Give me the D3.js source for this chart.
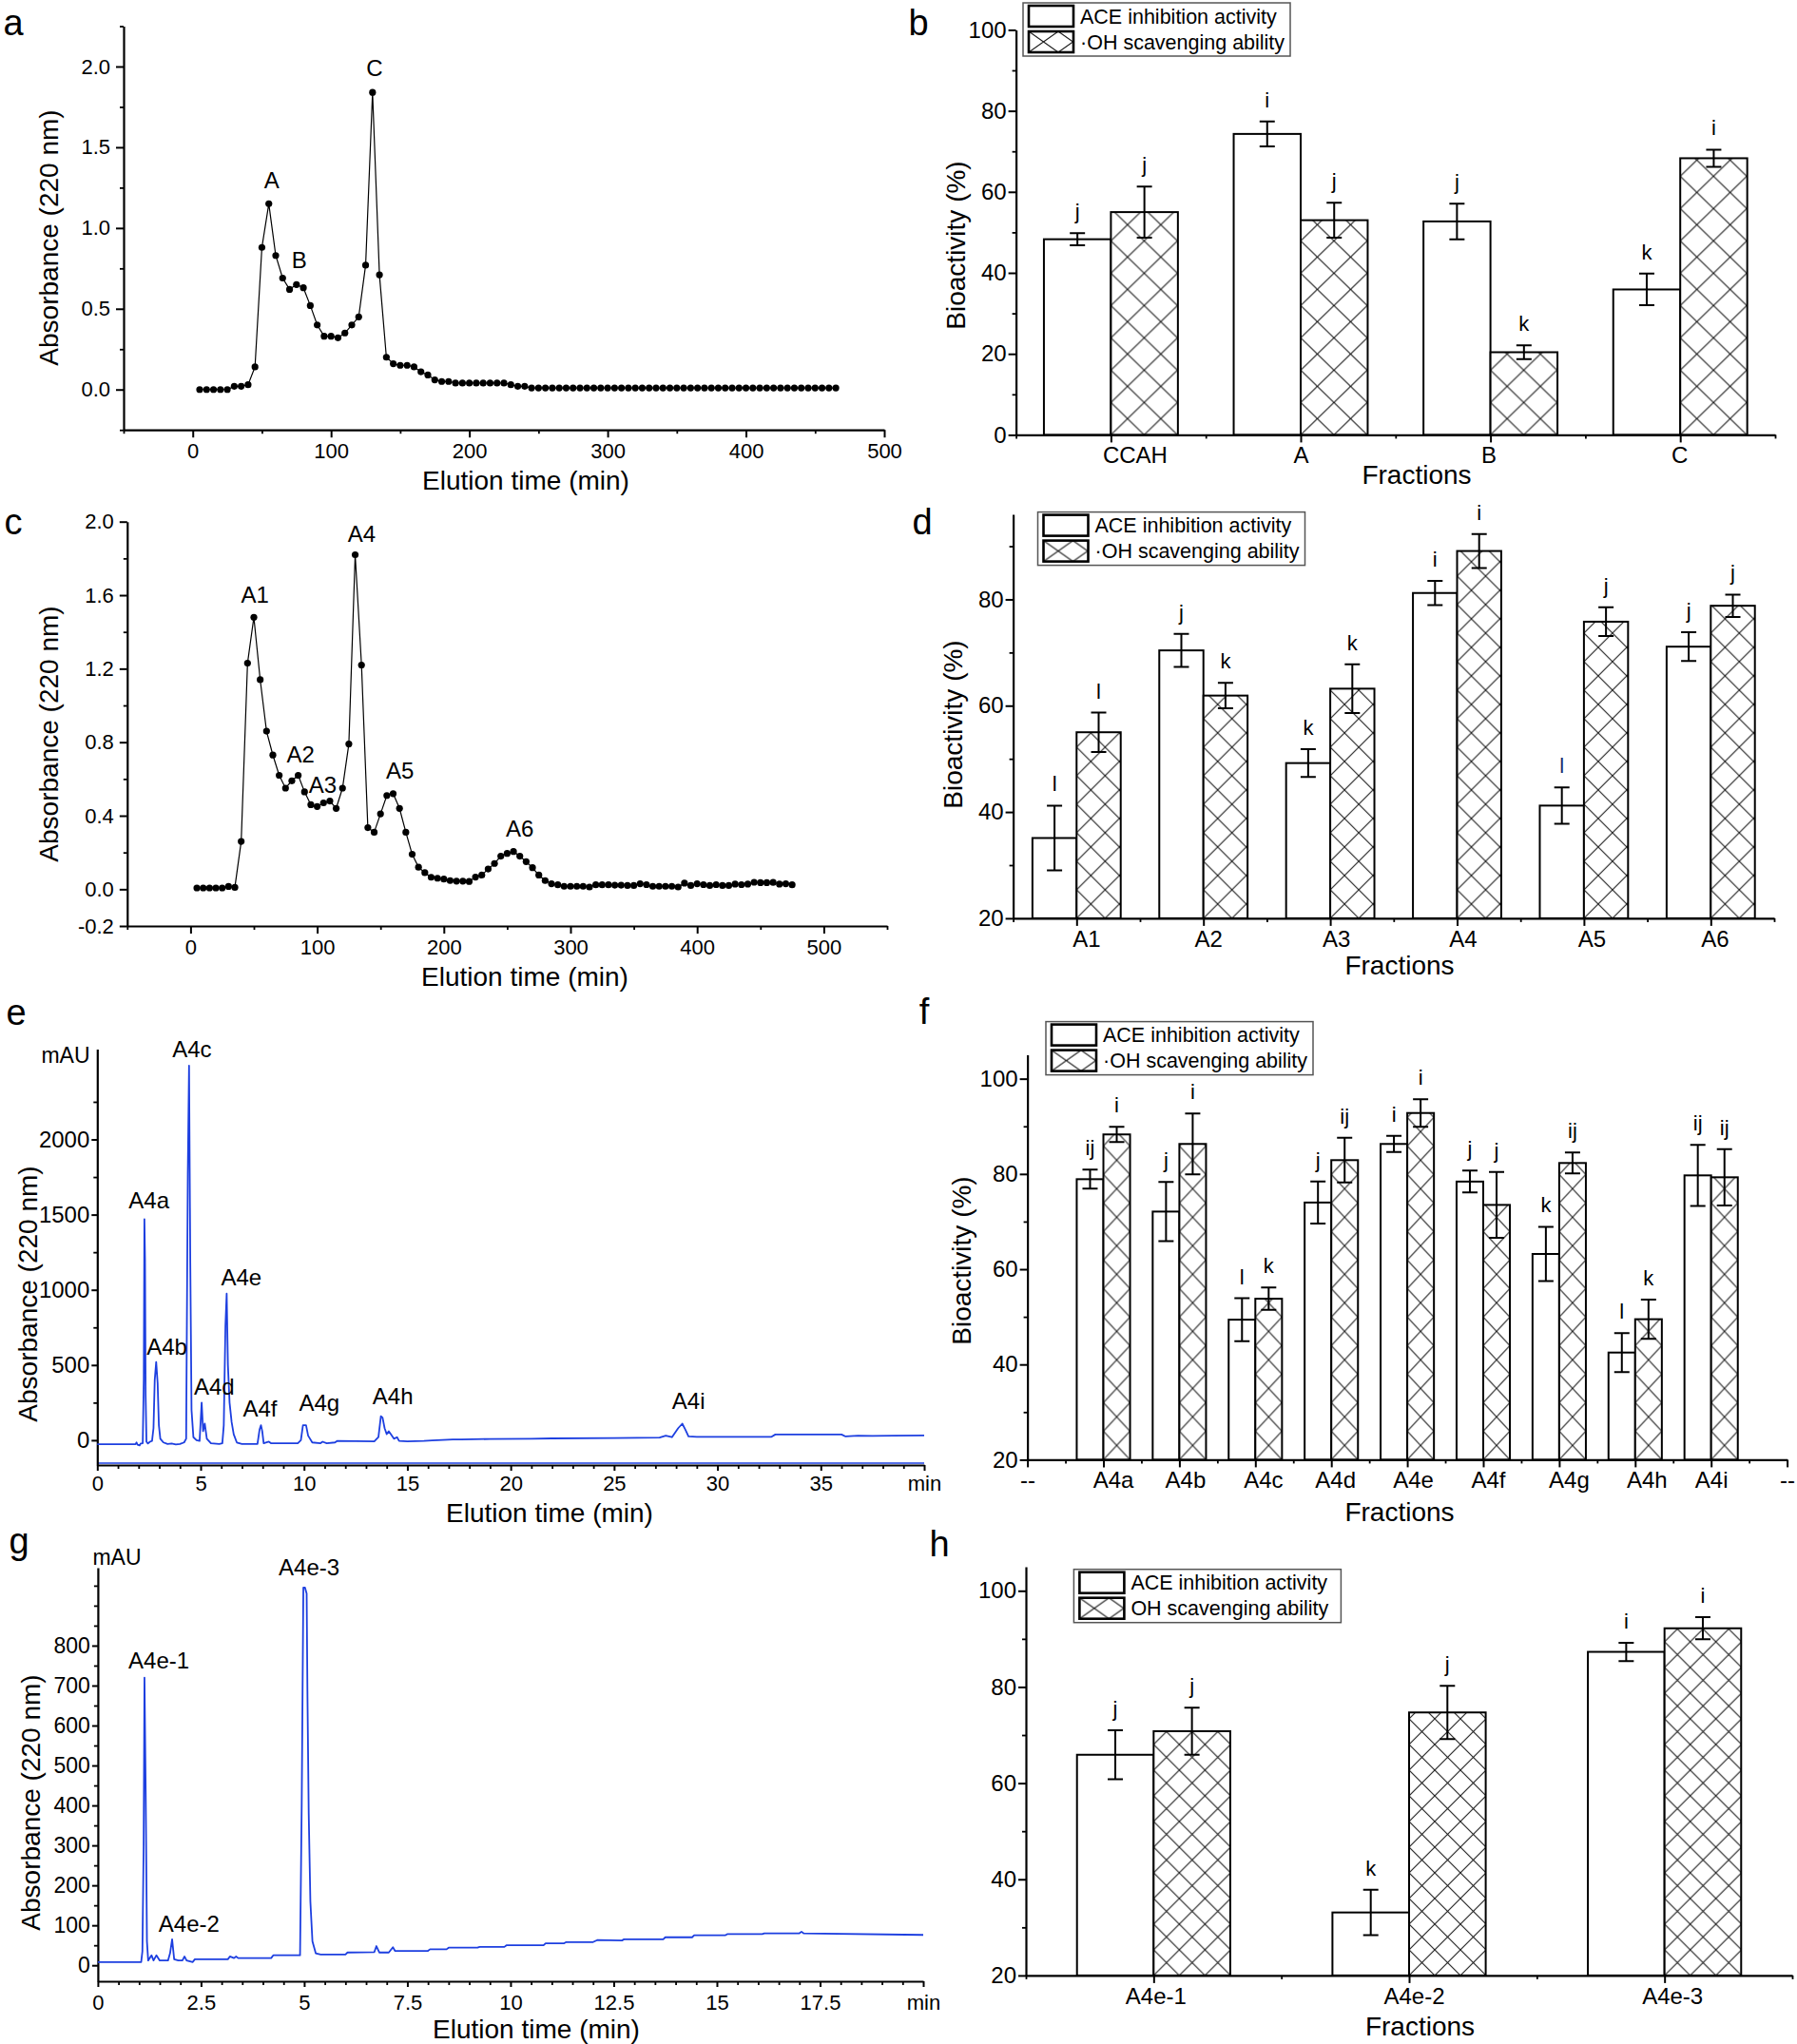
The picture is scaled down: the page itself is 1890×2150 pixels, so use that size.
<!DOCTYPE html>
<html>
<head>
<meta charset="utf-8">
<script src="https://cdn.jsdelivr.net/npm/d3@7"></script>
<style>
  body { margin: 0; background: #fff; }
  svg { display: block; }
</style>
</head>
<body>
<svg id="chart" width="1890" height="2150"></svg>
<script>
// ================= DATA =================
// Panel a : Sephadex fractionation of CCAH (absorbance 220 nm vs elution time)
const aTime = [5,10,15,20,25,30,35,40,45,50,55,60,65,70,75,80,85,90,95,100,105,110,115,120,125,130,135,140,145,150,155,160,165,170,175,180,185,190,195,200,205,210,215,220,225,230,235,240,245,250,255,260,265,270,275,280,285,290,295,300,305,310,315,320,325,330,335,340,345,350,355,360,365,370,375,380,385,390,395,400,405,410,415,420,425,430,435,440,445,450,455,460,465];
const aAbs  = [0,0,0,0,0,0.02,0.02,0.03,0.14,0.88,1.15,0.83,0.69,0.62,0.65,0.63,0.52,0.40,0.33,0.33,0.32,0.35,0.40,0.45,0.77,1.84,0.71,0.20,0.16,0.15,0.15,0.14,0.11,0.09,0.06,0.05,0.05,0.04,0.04,0.04,0.04,0.04,0.04,0.04,0.04,0.03,0.02,0.02,0.01,0.01,0.01,0.01,0.01,0.01,0.01,0.01,0.01,0.01,0.01,0.01,0.01,0.01,0.01,0.01,0.01,0.01,0.01,0.01,0.01,0.01,0.01,0.01,0.01,0.01,0.01,0.01,0.01,0.01,0.01,0.01,0.01,0.01,0.01,0.01,0.01,0.01,0.01,0.01,0.01,0.01,0.01,0.01,0.01];
const aPeakNames = ["A","B","C"];
const aPeakTime  = [57, 77, 131.5];
const aPeakAbs   = [1.163, 0.665, 1.853];
const aXTicks = [0,100,200,300,400,500];
const aYTicks = [0,0.5,1.0,1.5,2.0];

// Panel c : re-fractionation of A
const cTime = [5,10,15,20,25,30,35,40,45,50,55,60,65,70,75,80,85,90,95,100,105,110,115,120,125,130,135,140,145,150,155,160,165,170,175,180,185,190,195,200,205,210,215,220,225,230,235,240,245,250,255,260,265,270,275,280,285,290,295,300,305,310,315,320,325,330,335,340,345,350,355,360,365,370,375,380,385,390,395,400,405,410,415,420,425,430,435,440,445,450,455,460,465,470,475];
const cAbs  = [0.007,0.007,0.007,0.007,0.007,0.015,0.01,0.26,1.23,1.48,1.14,0.86,0.73,0.62,0.55,0.59,0.62,0.53,0.46,0.45,0.47,0.48,0.44,0.55,0.79,1.82,1.22,0.335,0.31,0.41,0.51,0.52,0.44,0.31,0.19,0.12,0.09,0.065,0.06,0.055,0.047,0.044,0.044,0.042,0.066,0.077,0.11,0.14,0.18,0.195,0.205,0.18,0.15,0.117,0.077,0.047,0.03,0.024,0.016,0.016,0.016,0.016,0.012,0.024,0.024,0.024,0.022,0.022,0.02,0.02,0.03,0.025,0.016,0.016,0.016,0.016,0.012,0.033,0.02,0.03,0.025,0.02,0.025,0.02,0.02,0.028,0.025,0.028,0.038,0.036,0.036,0.037,0.028,0.03,0.024];
const cPeakNames = ["A1","A2","A3","A4","A5","A6"];
const cPeakTime  = [50.8, 87, 104.3, 135.2, 165.3, 260];
const cPeakAbs   = [1.484, 0.615, 0.449, 1.815, 0.527, 0.211];
const cXTicks = [0,100,200,300,400,500];
const cYTicks = [-0.2,0.0,0.4,0.8,1.2,1.6,2.0];

// Panel e : RP-HPLC of A4 (mAU vs min)
const eTime = [0,1.85,1.9,1.95,2.05,2.1,2.2,2.25,2.28,2.31,2.34,2.38,2.45,2.55,2.65,2.72,2.78,2.85,2.92,2.98,3.05,3.2,3.4,3.6,3.8,4.0,4.2,4.3,4.38,4.44,4.5,4.56,4.65,4.8,4.95,5.05,5.12,5.2,5.3,5.5,5.9,6.05,6.12,6.2,6.26,6.32,6.4,6.5,6.6,6.75,7.0,7.75,7.85,7.92,7.98,8.05,8.3,8.4,9.7,9.85,9.95,10.1,10.2,10.4,10.8,10.9,11.1,11.5,11.6,13.4,13.6,13.72,13.8,13.9,14.0,14.1,14.2,14.35,14.5,14.6,15.0,15.8,16.2,17.2,17.6,19.0,21.0,22.0,25.0,27.2,27.5,27.8,28.1,28.3,28.45,28.6,29.0,32.6,32.8,36.0,36.2,36.8,37.5,38.5,40];
const eMAU  = [-27,-27,-15,-30,-35,-22,-20,400,1470,1200,300,-10,-22,-10,-5,80,400,520,380,100,10,-15,-25,-22,-28,-25,-15,10,1770,2490,1180,200,20,0,-5,250,60,110,10,-20,-25,-20,100,760,975,500,250,120,40,-15,-25,-25,70,100,60,-20,-10,-20,-20,0,100,100,30,-15,-20,-10,-20,-15,-5,-8,20,160,150,80,40,60,40,10,20,-5,-8,-5,-2,5,5,8,10,12,15,18,30,20,80,110,70,25,22,22,38,38,25,30,28,30,32];
const ePeakNames = ["A4a","A4b","A4c","A4d","A4e","A4f","A4g","A4h","A4i"];
const ePeakTime  = [2.5, 3.37, 4.58, 5.66, 6.97, 7.87, 10.74, 14.3, 28.6];
const ePeakMAU   = [1475, 500, 2483, 237, 962, 89, 127, 173, 139];
const eXTicks = [0,5,10,15,20,25,30,35,40];
const eXLabels = ["0","5","10","15","20","25","30","35","min"];
const eYTicks = [0,500,1000,1500,2000];

// Panel g : RP-HPLC of A4e
const gTime = [0,1.05,1.08,1.11,1.13,1.16,1.19,1.22,1.3,1.35,1.42,1.5,1.7,1.75,1.8,1.85,1.95,2.05,2.1,2.15,2.3,2.35,3.15,3.2,3.3,3.35,3.4,4.2,4.25,4.9,4.94,4.98,5.02,5.06,5.08,5.11,5.15,5.2,5.28,5.4,6.0,6.05,6.7,6.75,6.82,7.05,7.15,7.2,8.0,8.05,8.45,8.5,9.2,9.25,9.85,9.9,10.8,10.85,11.3,11.35,12.0,12.1,12.7,12.75,13.7,13.75,14.4,14.45,15.2,15.25,16.1,16.15,17.0,17.05,17.1,20];
const gMAU  = [8,8,35,300,720,430,60,12,25,12,25,12,12,30,65,15,12,12,22,12,8,15,15,22,18,22,18,18,25,25,400,945,945,930,670,380,160,60,30,27,27,32,33,48,32,32,45,36,36,40,40,44,44,46,46,50,50,55,55,58,58,63,62,65,65,70,70,75,75,78,78,80,80,84,80,76];
const gPeakNames = ["A4e-1","A4e-2","A4e-3"];
const gPeakTime  = [1.48, 2.21, 5.12];
const gPeakMAU   = [718, 58, 950];
const gXTicks = [0,2.5,5,7.5,10,12.5,15,17.5,20];
const gXLabels = ["0","2.5","5","7.5","10","12.5","15","17.5","min"];
const gYTicks = [0,100,200,300,400,500,600,700,800];

// Panel b : bioactivity of CCAH and fractions A-C
const bCats = ["CCAH","A","B","C"];
const bAce = [48.3, 74.3, 52.7, 35.9];
const bAceErr = [1.5, 3.1, 4.4, 3.9];
const bOh = [55.0, 53.0, 20.4, 68.3];
const bOhErr = [6.3, 4.3, 1.7, 2.1];
const bAceSig = ["j","i","j","k"];
const bOhSig = ["j","j","k","i"];
const bYTicks = [0,20,40,60,80,100];

// Panel d : bioactivity of A1-A6
const dCats = ["A1","A2","A3","A4","A5","A6"];
const dAce = [35.1, 70.4, 49.2, 81.2, 41.2, 71.1];
const dAceErr = [6.1, 3.1, 2.6, 2.3, 3.4, 2.7];
const dOh = [55.0, 61.9, 63.2, 89.1, 75.8, 78.8];
const dOhErr = [3.7, 2.4, 4.6, 3.2, 2.7, 2.1];
const dAceSig = ["l","j","k","i","l","j"];
const dOhSig = ["l","k","k","i","j","j"];
const dYTicks = [20,40,60,80];

// Panel f : bioactivity of A4a-A4i
const fCats = ["A4a","A4b","A4c","A4d","A4e","A4f","A4g","A4h","A4i"];
const fAce = [78.9, 72.1, 49.4, 74.0, 86.3, 78.4, 63.2, 42.5, 79.7];
const fAceErr = [2.0, 6.2, 4.5, 4.4, 1.7, 2.3, 5.7, 4.1, 6.4];
const fOh = [88.3, 86.3, 53.8, 82.9, 92.8, 73.5, 82.3, 49.5, 79.3];
const fOhErr = [1.6, 6.4, 2.35, 4.7, 2.9, 6.9, 2.2, 4.1, 5.9];
const fAceSig = ["ij","j","l","j","i","j","k","l","ij"];
const fOhSig = ["i","i","k","ij","i","j","ij","k","ij"];
const fXLabels = ["--","A4a","A4b","A4c","A4d","A4e","A4f","A4g","A4h","A4i","--"];
const fYTicks = [20,40,60,80,100];

// Panel h : bioactivity of A4e-1..3
const hCats = ["A4e-1","A4e-2","A4e-3"];
const hAce = [65.9, 33.1, 87.3];
const hAceErr = [5.1, 4.7, 1.9];
const hOh = [70.8, 74.7, 92.2];
const hOhErr = [4.9, 5.55, 2.3];
const hAceSig = ["j","k","i"];
const hOhSig = ["j","j","i"];
const hYTicks = [20,40,60,80,100];

// ================= DRAWING =================
const FONT = '"Liberation Sans", Arial, Helvetica, sans-serif';
const BLUE = "#1d3fe0";
const svg = d3.select("#chart");
svg.append("rect").attr("width", 1890).attr("height", 2150).attr("fill", "#fff");
const defs = svg.append("defs");
const fmt1 = d => d3.format(".1f")(d).replace("\u2212", "-");

function styleAxis(ax, fs) {
  ax.attr("font-family", null).attr("font-size", null);
  ax.select(".domain").attr("stroke", "#000").attr("stroke-width", 2.2);
  ax.selectAll(".tick line").attr("stroke", "#000").attr("stroke-width", 2);
  ax.selectAll(".tick text").attr("font-family", FONT).attr("font-size", fs).attr("fill", "#000");
}

function drawAxes(g, x, y, o) {
  const bottom = y.range()[0], left = x.range()[0];
  if (o.yMinor) {
    const m = g.append("g").attr("transform", `translate(${left},0)`)
      .call(d3.axisLeft(y).tickValues(o.yMinor).tickSize(o.minorSize).tickFormat(() => ""));
    m.select(".domain").remove();
    m.selectAll(".tick line").attr("stroke", "#000").attr("stroke-width", 1.8);
  }
  if (o.xMinor) {
    const m = g.append("g").attr("transform", `translate(0,${bottom})`)
      .call(d3.axisBottom(x).tickValues(o.xMinor).tickSize(o.minorSize).tickFormat(() => ""));
    m.select(".domain").remove();
    m.selectAll(".tick line").attr("stroke", "#000").attr("stroke-width", 1.8);
  }
  const ya = g.append("g").attr("transform", `translate(${left},0)`)
    .call(d3.axisLeft(y).tickValues(o.yMajor).tickSize(o.majorSize).tickSizeOuter(0)
      .tickPadding(o.yPad).tickFormat(o.yFmt));
  styleAxis(ya, o.yFs || 22);
  const xa = g.append("g").attr("transform", `translate(0,${bottom})`)
    .call(d3.axisBottom(x).tickValues(o.xMajor).tickSize(o.majorSize).tickSizeOuter(0)
      .tickPadding(o.xPad).tickFormat(o.xFmt));
  styleAxis(xa, o.xFs || 22);
  if (o.xDx) xa.selectAll(".tick text").attr("dx", (d, i) => o.xDx[i] || 0);
  return { xa, ya };
}

function axisTitles(g, o) {
  if (o.xTitle) {
    g.append("text").attr("x", o.xTitle[0]).attr("y", o.xTitle[1]).attr("dy", "0.35em")
      .attr("text-anchor", "middle").attr("font-family", FONT).attr("font-size", 28).text(o.xTitle[2]);
  }
  if (o.yTitle) {
    g.append("text").attr("transform", `translate(${o.yTitle[0]},${o.yTitle[1]}) rotate(-90)`)
      .attr("dy", "0.35em").attr("text-anchor", "middle").attr("font-family", FONT)
      .attr("font-size", 28).text(o.yTitle[2]);
  }
  g.append("text").attr("x", o.letter[0]).attr("y", o.letter[1])
    .attr("text-anchor", "middle").attr("font-family", FONT).attr("font-size", 38).text(o.letter[2]);
}

function peakLabels(g, x, y, names, xs, ys, off, fs) {
  g.selectAll("text.peak").data(names).join("text").attr("class", "peak")
    .attr("x", (d, i) => x(xs[i])).attr("y", (d, i) => y(ys[i]) - off).attr("dy", "0.35em")
    .attr("text-anchor", "middle").attr("font-family", FONT).attr("font-size", fs).text(d => d);
}

// ---- dotted line chromatograms (a, c)
function dotPanel(o) {
  const g = svg.append("g");
  const x = d3.scaleLinear().domain(o.xDomain).range([o.left, o.right]);
  const y = d3.scaleLinear().domain(o.yDomain).range([o.bottom, o.top]);
  drawAxes(g, x, y, {
    yMajor: o.yTicks, yMinor: o.yMinor, xMajor: o.xTicks, xMinor: o.xMinor,
    majorSize: 8, minorSize: 4, yPad: 6, xPad: 6, yFmt: fmt1, xFmt: d3.format("d")
  });
  const pts = o.xs.map((t, i) => [t, o.ys[i]]);
  g.append("path").datum(pts)
    .attr("d", d3.line().x(d => x(d[0])).y(d => y(d[1])))
    .attr("fill", "none").attr("stroke", "#000").attr("stroke-width", 1.2);
  g.selectAll("circle").data(pts).join("circle")
    .attr("cx", d => x(d[0])).attr("cy", d => y(d[1])).attr("r", 3.6).attr("fill", "#000");
  peakLabels(g, x, y, o.names, o.px, o.py, 23, 24);
  axisTitles(g, o);
}

// ---- HPLC chromatograms (e, g)
function hplcPanel(o) {
  const g = svg.append("g");
  const x = d3.scaleLinear().domain(o.xDomain).range([o.left, o.right]);
  const y = d3.scaleLinear().domain(o.yDomain).range([o.bottom, o.top]);
  if (o.blueBase) {
    g.append("line").attr("x1", o.left).attr("x2", o.right)
      .attr("y1", o.bottom - 2).attr("y2", o.bottom - 2)
      .attr("stroke", BLUE).attr("stroke-width", 1.6);
  }
  drawAxes(g, x, y, {
    yMajor: o.yTicks, yMinor: o.yMinor, xMajor: o.xTicks, xMinor: o.xMinor,
    majorSize: 6, minorSize: 4, yPad: 2, xPad: o.xPad, yFs: o.yFs, xFs: 22,
    yFmt: d3.format("d"), xFmt: (d, i) => o.xLabels[i]
  });
  const pts = o.xs.map((t, i) => [t, o.ys[i]]);
  g.append("path").datum(pts)
    .attr("d", d3.line().x(d => x(d[0])).y(d => y(d[1])))
    .attr("fill", "none").attr("stroke", BLUE).attr("stroke-width", 1.8).attr("stroke-linejoin", "round");
  peakLabels(g, x, y, o.names, o.px, o.py, 19, 24);
  g.append("text").attr("x", o.mau[0]).attr("y", o.mau[1]).attr("dy", "0.35em")
    .attr("text-anchor", "middle").attr("font-family", FONT).attr("font-size", 23).text("mAU");
  axisTitles(g, o);
}

// ---- grouped bar charts (b, d, f, h)
let patId = 0;
function hatch(x0, y0, w, h) {
  const id = "hatch" + (patId++);
  const p = defs.append("pattern").attr("id", id).attr("patternUnits", "userSpaceOnUse")
    .attr("x", x0).attr("y", y0).attr("width", w).attr("height", h);
  p.append("rect").attr("width", w).attr("height", h).attr("fill", "#fff");
  p.append("path").attr("d", `M0,0L${w},${h}M${w},0L0,${h}`)
    .attr("stroke", "#1a1a1a").attr("stroke-width", 1.1).attr("fill", "none");
  return `url(#${id})`;
}

function legend(g, x0, y0, dot) {
  g.append("rect").attr("x", x0).attr("y", y0).attr("width", 281).attr("height", 56)
    .attr("fill", "#fff").attr("stroke", "#555").attr("stroke-width", 1.5);
  g.append("rect").attr("x", x0 + 6).attr("y", y0 + 3).attr("width", 47).attr("height", 22)
    .attr("fill", "#fff").attr("stroke", "#000").attr("stroke-width", 2.6);
  g.append("rect").attr("x", x0 + 6).attr("y", y0 + 30).attr("width", 47).attr("height", 22)
    .attr("fill", hatch(x0 + 6, y0 + 30, 31, 22)).attr("stroke", "#000").attr("stroke-width", 2.6);
  g.append("text").attr("x", x0 + 60).attr("y", y0 + 14).attr("dy", "0.35em")
    .attr("font-family", FONT).attr("font-size", 21.5).text("ACE inhibition activity");
  g.append("text").attr("x", x0 + 60).attr("y", y0 + 41).attr("dy", "0.35em")
    .attr("font-family", FONT).attr("font-size", 21.5).text((dot ? "\u00B7" : "") + "OH scavenging ability");
}

function barPanel(o) {
  const g = svg.append("g");
  const x = d3.scaleLinear().domain(o.xDomain).range([o.left, o.right]);
  const y = d3.scaleLinear().domain(o.yDomain).range([o.bottom, o.top]);
  const base = o.yDomain[0];
  const bw = o.barFrac * (x(1) - x(0));
  const pos = o.cats.map((c, i) => i + 1);

  g.selectAll("rect.ace").data(o.ace).join("rect").attr("class", "ace")
    .attr("x", (d, i) => x(pos[i]) - bw).attr("y", d => y(d))
    .attr("width", bw).attr("height", d => y(base) - y(d))
    .attr("fill", "#fff").attr("stroke", "#000").attr("stroke-width", 2);
  g.selectAll("rect.oh").data(o.oh).join("rect").attr("class", "oh")
    .attr("x", (d, i) => x(pos[i])).attr("y", d => y(d))
    .attr("width", bw).attr("height", d => y(base) - y(d))
    .attr("fill", (d, i) => hatch(x(pos[i]), y(base), o.pat[0], o.pat[1]))
    .attr("stroke", "#000").attr("stroke-width", 2);

  const series = [
    { v: o.ace, e: o.aceErr, s: o.aceSig, dx: -bw / 2, key: "ace" },
    { v: o.oh, e: o.ohErr, s: o.ohSig, dx: bw / 2, key: "oh" }
  ];
  series.forEach(S => {
    S.v.forEach((v, i) => {
      const cx = x(pos[i]) + S.dx;
      const yt = y(v + S.e[i]), yb = y(v - S.e[i]);
      const cap = 8;
      g.append("path").attr("d", `M${cx},${yt}V${yb}M${cx - cap},${yt}H${cx + cap}M${cx - cap},${yb}H${cx + cap}`)
        .attr("stroke", "#000").attr("stroke-width", 2).attr("fill", "none");
      const col = (o.hl && o.hl.key === S.key && o.hl.index === i) ? o.hl.color : "#000";
      g.append("text").attr("x", cx).attr("y", yt - 15).attr("text-anchor", "middle")
        .attr("font-family", FONT).attr("font-size", 22).attr("fill", col).text(S.s[i]);
    });
  });

  drawAxes(g, x, y, {
    yMajor: o.yTicks, yMinor: o.yMinor, xMajor: o.xMajor, xMinor: o.xMinor,
    majorSize: 8, minorSize: 4, yPad: 2, xPad: 5, yFmt: d3.format("d"), yFs: 24, xFs: 24,
    xFmt: (d, i) => o.xLabels[i], xDx: o.xDx
  });
  legend(g, o.legend[0], o.legend[1], o.dot);
  axisTitles(g, o);
}

// ---------- panel a
dotPanel({
  left: 130, right: 930, top: 27.5, bottom: 452.2, xDomain: [-50, 500], yDomain: [-0.25, 2.25],
  xs: aTime, ys: aAbs, xTicks: aXTicks, xMinor: [-50, 50, 150, 250, 350, 450],
  yTicks: aYTicks, yMinor: [-0.25, 0.25, 0.75, 1.25, 1.75, 2.25],
  names: aPeakNames, px: aPeakTime, py: aPeakAbs,
  xTitle: [553, 505, "Elution time (min)"], yTitle: [51, 250, "Absorbance (220 nm)"], letter: [14, 37, "a"]
});
// ---------- panel c
dotPanel({
  left: 133.8, right: 933, top: 548.7, bottom: 974, xDomain: [-50, 550], yDomain: [-0.2, 2.0],
  xs: cTime, ys: cAbs, xTicks: cXTicks, xMinor: [-50, 50, 150, 250, 350, 450, 550],
  yTicks: cYTicks, yMinor: [0.2, 0.6, 1.0, 1.4, 1.8],
  names: cPeakNames, px: cPeakTime, py: cPeakAbs,
  xTitle: [552, 1027, "Elution time (min)"], yTitle: [51, 772, "Absorbance (220 nm)"], letter: [14, 562, "c"]
});
// ---------- panel e
hplcPanel({
  left: 102.3, right: 972, top: 1103.6, bottom: 1541, xDomain: [0, 40], yDomain: [-165, 2600],
  xs: eTime, ys: eMAU, xTicks: eXTicks, xLabels: eXLabels, xPad: 5,
  xMinor: d3.range(1, 40).filter(v => v % 5 !== 0),
  yTicks: eYTicks, yMinor: [250, 750, 1250, 1750, 2250], yFs: 24,
  names: ePeakNames, px: ePeakTime, py: ePeakMAU, blueBase: true, mau: [69, 1110],
  xTitle: [578, 1591, "Elution time (min)"], yTitle: [29, 1361, "Absorbance (220 nm)"], letter: [17, 1078, "e"]
});
// ---------- panel g
hplcPanel({
  left: 102.9, right: 971, top: 1649, bottom: 2084, xDomain: [0, 20], yDomain: [-40, 995],
  xs: gTime, ys: gMAU, xTicks: gXTicks, xLabels: gXLabels, xPad: 8,
  xMinor: d3.range(0.5, 20, 0.5).filter(v => v % 2.5 !== 0),
  yTicks: gYTicks, yMinor: d3.range(50, 1000, 50).filter(v => v % 100 !== 0 || v > 800), yFs: 23,
  names: gPeakNames, px: gPeakTime, py: gPeakMAU, blueBase: false, mau: [123, 1638],
  xTitle: [564, 2134, "Elution time (min)"], yTitle: [32, 1896, "Absorbance (220 nm)"], letter: [20, 1634, "g"]
});
// ---------- panel b
barPanel({
  left: 1068.6, right: 1867, top: 31.4, bottom: 457.4, xDomain: [0.5, 4.5], yDomain: [0, 100],
  cats: bCats, ace: bAce, aceErr: bAceErr, oh: bOh, ohErr: bOhErr, aceSig: bAceSig, ohSig: bOhSig,
  barFrac: 0.353, pat: [35, 34], yTicks: bYTicks, yMinor: [10, 30, 50, 70, 90],
  xMajor: [1, 2, 3, 4], xMinor: [0.5, 1.5, 2.5, 3.5, 4.5], xLabels: bCats, xDx: [25, 0, -2, -1],
  legend: [1076, 3], dot: true,
  xTitle: [1490, 499, "Fractions"], yTitle: [1005, 258, "Bioactivity (%)"], letter: [966, 37, "b"]
});
// ---------- panel d
barPanel({
  left: 1065.6, right: 1866, top: 541, bottom: 965.9, xDomain: [0.5, 6.5], yDomain: [20, 96],
  cats: dCats, ace: dAce, aceErr: dAceErr, oh: dOh, ohErr: dOhErr, aceSig: dAceSig, ohSig: dOhSig,
  barFrac: 0.348, pat: [30, 30], yTicks: dYTicks, yMinor: [30, 50, 70, 90],
  xMajor: [1, 2, 3, 4, 5, 6], xMinor: [0.5, 1.5, 2.5, 3.5, 4.5, 5.5, 6.5], xLabels: dCats,
  xDx: [10, 5, 6, 6, 8, 4], legend: [1091.5, 538.6], dot: true,
  hl: { key: "ace", index: 4, color: "#1c2e6e" },
  xTitle: [1472, 1015, "Fractions"], yTitle: [1002, 762, "Bioactivity (%)"], letter: [970, 562, "d"]
});
// ---------- panel f
barPanel({
  left: 1080.6, right: 1879.6, top: 1109.6, bottom: 1535.4, xDomain: [0, 10], yDomain: [20, 105],
  cats: fCats, ace: fAce, aceErr: fAceErr, oh: fOh, ohErr: fOhErr, aceSig: fAceSig, ohSig: fOhSig,
  barFrac: 0.351, pat: [28, 30], yTicks: fYTicks, yMinor: [30, 50, 70, 90],
  xMajor: [0, 1, 2, 3, 4, 5, 6, 7, 8, 9, 10], xMinor: [0.5, 1.5, 2.5, 3.5, 4.5, 5.5, 6.5, 7.5, 8.5, 9.5],
  xLabels: fXLabels, xDx: [0, 10, 6, 8, 4, 6, 5, 10, 12, 0, 0], legend: [1100, 1074.6], dot: true,
  xTitle: [1472, 1590, "Fractions"], yTitle: [1011, 1326, "Bioactivity (%)"], letter: [972, 1077, "f"]
});
// ---------- panel h
barPanel({
  left: 1079, right: 1885, top: 1648, bottom: 2077.9, xDomain: [0.5, 3.5], yDomain: [20, 105],
  cats: hCats, ace: hAce, aceErr: hAceErr, oh: hOh, ohErr: hOhErr, aceSig: hAceSig, ohSig: hOhSig,
  barFrac: 0.3, pat: [27, 27], yTicks: hYTicks, yMinor: [30, 50, 70, 90],
  xMajor: [1, 2, 3], xMinor: [0.5, 1.5, 2.5, 3.5], xLabels: hCats, xDx: [2, 5, 8],
  legend: [1129.4, 1650.7], dot: false,
  xTitle: [1493.5, 2131, "Fractions"], yTitle: null, letter: [988, 1637, "h"]
});
</script>
</body>
</html>
